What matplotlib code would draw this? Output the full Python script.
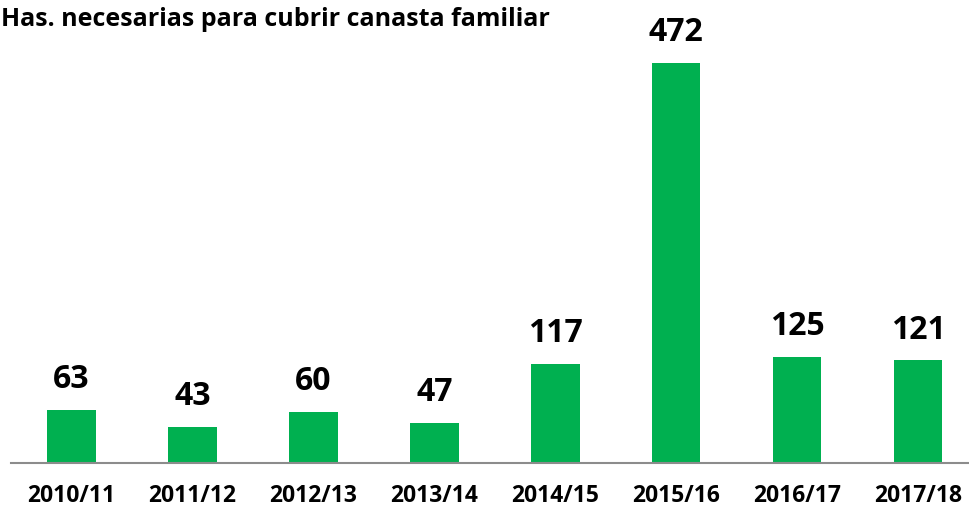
import matplotlib.pyplot as plt

campanas = ['2010/11', '2011/12', '2012/13', '2013/14', '2014/15', '2015/16', '2016/17', '2017/18']
hectareas = [63, 43, 60, 47, 117, 472, 125, 121]

plt.rcParams['font.family'] = ['Open Sans', 'DejaVu Sans']

fig = plt.figure(figsize=(9.69, 5.09), dpi=100)
ax = fig.add_axes([11 / 969, 46 / 509, 958 / 969, 463 / 509])

x = range(len(campanas))
bars = ax.bar(x, hectareas, width=0.4, color='#00B050')

for b, v in zip(bars, hectareas):
    ax.annotate(str(v), (b.get_x() + b.get_width() / 2, v), xytext=(0, 10),
                textcoords='offset points', ha='center', va='bottom',
                fontsize=23, fontweight='bold', color='black')

ax.set_xlim(-0.5, 7.42)
ax.set_ylim(0, 472 * 463 / 400)
ax.set_xticks(list(x))
ax.set_xticklabels(campanas, fontsize=16.5, fontweight='bold')
ax.tick_params(axis='x', length=0, pad=15)
ax.set_yticks([])
for s in ['top', 'right', 'left']:
    ax.spines[s].set_visible(False)
ax.spines['bottom'].set_color('#8c8c8c')
ax.spines['bottom'].set_linewidth(1.5)

fig.text(0.001, 0.962, 'Has. necesarias para cubrir canasta familiar',
         fontsize=18, fontweight='bold', ha='left', va='center')

fig.savefig('out.png', dpi=100)
